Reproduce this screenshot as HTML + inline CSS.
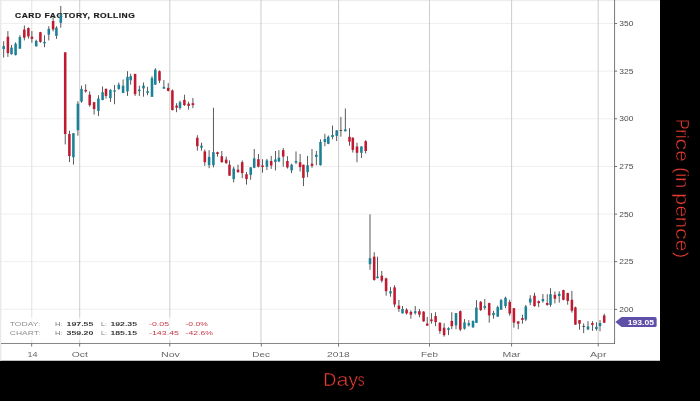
<!DOCTYPE html>
<html lang="en"><head><meta charset="utf-8"><title>CARD FACTORY, ROLLING</title>
<style>html,body{margin:0;padding:0;background:#000;}body{width:700px;height:401px;overflow:hidden;}svg{display:block;}text{font-family:"Liberation Sans",sans-serif;}</style>
</head><body>
<svg width="700" height="401" viewBox="0 0 700 401">
<rect x="0" y="0" width="700" height="401" fill="#000"/>
<rect x="0" y="0" width="660" height="360.75" fill="#fff"/>
<rect x="0" y="0" width="660" height="1.2" fill="#ededed"/>
<rect x="0" y="0" width="1.4" height="360.6" fill="#e9e9e9"/>
<rect x="1" y="22.9" width="613.5" height="1" fill="#efefef"/>
<rect x="1" y="70.6" width="613.5" height="1" fill="#efefef"/>
<rect x="1" y="118.3" width="613.5" height="1" fill="#efefef"/>
<rect x="1" y="165.9" width="613.5" height="1" fill="#efefef"/>
<rect x="1" y="213.6" width="613.5" height="1" fill="#efefef"/>
<rect x="1" y="261.2" width="613.5" height="1" fill="#efefef"/>
<rect x="1" y="308.8" width="613.5" height="1" fill="#efefef"/>
<rect x="31.2" y="0" width="1.1" height="343.5" fill="#e4e4e4"/>
<rect x="79.20" y="0" width="1" height="343.5" fill="#cdcdcd"/>
<rect x="169.30" y="0" width="1" height="343.5" fill="#cdcdcd"/>
<rect x="260.45" y="0" width="1" height="343.5" fill="#cdcdcd"/>
<rect x="338.10" y="0" width="1" height="343.5" fill="#cdcdcd"/>
<rect x="429.00" y="0" width="1" height="343.5" fill="#cdcdcd"/>
<rect x="511.10" y="0" width="1" height="343.5" fill="#cdcdcd"/>
<rect x="597.70" y="0" width="1" height="343.5" fill="#cdcdcd"/>
<rect x="1" y="343.1" width="614" height="0.9" fill="#7a7a7a"/>
<rect x="614.25" y="0" width="0.8" height="344" fill="#5a5a5a"/>
<rect x="31.25" y="343.5" width="0.9" height="3" fill="#666"/>
<rect x="79.25" y="343.5" width="0.9" height="3" fill="#666"/>
<rect x="169.35" y="343.5" width="0.9" height="3" fill="#666"/>
<rect x="260.85" y="343.5" width="0.9" height="3" fill="#666"/>
<rect x="338.15" y="343.5" width="0.9" height="3" fill="#666"/>
<rect x="429.05" y="343.5" width="0.9" height="3" fill="#666"/>
<rect x="511.15" y="343.5" width="0.9" height="3" fill="#666"/>
<rect x="597.75" y="343.5" width="0.9" height="3" fill="#666"/>
<rect x="614.6" y="23.0" width="2.6" height="0.8" fill="#555"/>
<text x="619.3" y="25.8" font-size="6.7" fill="#4d4d4d" textLength="14.1" lengthAdjust="spacingAndGlyphs">350</text>
<rect x="614.6" y="70.7" width="2.6" height="0.8" fill="#555"/>
<text x="619.3" y="73.5" font-size="6.7" fill="#4d4d4d" textLength="14.1" lengthAdjust="spacingAndGlyphs">325</text>
<rect x="614.6" y="118.4" width="2.6" height="0.8" fill="#555"/>
<text x="619.3" y="121.2" font-size="6.7" fill="#4d4d4d" textLength="14.1" lengthAdjust="spacingAndGlyphs">300</text>
<rect x="614.6" y="166.0" width="2.6" height="0.8" fill="#555"/>
<text x="619.3" y="168.8" font-size="6.7" fill="#4d4d4d" textLength="14.1" lengthAdjust="spacingAndGlyphs">275</text>
<rect x="614.6" y="213.7" width="2.6" height="0.8" fill="#555"/>
<text x="619.3" y="216.5" font-size="6.7" fill="#4d4d4d" textLength="14.1" lengthAdjust="spacingAndGlyphs">250</text>
<rect x="614.6" y="261.3" width="2.6" height="0.8" fill="#555"/>
<text x="619.3" y="264.1" font-size="6.7" fill="#4d4d4d" textLength="14.1" lengthAdjust="spacingAndGlyphs">225</text>
<rect x="614.6" y="308.9" width="2.6" height="0.8" fill="#555"/>
<text x="619.3" y="311.7" font-size="6.7" fill="#4d4d4d" textLength="14.1" lengthAdjust="spacingAndGlyphs">200</text>
<text x="27.4" y="357.3" font-size="8" fill="#666" textLength="10" lengthAdjust="spacingAndGlyphs">14</text>
<text x="71.7" y="357.3" font-size="8" fill="#666" textLength="16.1" lengthAdjust="spacingAndGlyphs">Oct</text>
<text x="161.0" y="357.3" font-size="8" fill="#666" textLength="18.9" lengthAdjust="spacingAndGlyphs">Nov</text>
<text x="252.3" y="357.3" font-size="8" fill="#666" textLength="17.7" lengthAdjust="spacingAndGlyphs">Dec</text>
<text x="327.1" y="357.3" font-size="8" fill="#666" textLength="22.6" lengthAdjust="spacingAndGlyphs">2018</text>
<text x="421.0" y="357.3" font-size="8" fill="#666" textLength="17" lengthAdjust="spacingAndGlyphs">Feb</text>
<text x="502.6" y="357.3" font-size="8" fill="#666" textLength="18" lengthAdjust="spacingAndGlyphs">Mar</text>
<text x="590.0" y="357.3" font-size="8" fill="#666" textLength="16.5" lengthAdjust="spacingAndGlyphs">Apr</text>
<text x="15" y="17.55" font-size="7.4" font-weight="bold" fill="#1c1c1c" stroke="#1c1c1c" stroke-width="0.2" letter-spacing="0.5" textLength="120.4" lengthAdjust="spacingAndGlyphs">CARD FACTORY, ROLLING</text>
<rect x="3.28" y="41.2" width="0.85" height="16.4" fill="#3e3e3e"/>
<rect x="2.43" y="46.1" width="2.55" height="3.0" fill="#1b8196"/>
<rect x="7.48" y="31.1" width="0.85" height="25.8" fill="#3e3e3e"/>
<rect x="6.62" y="36.7" width="2.55" height="16.4" fill="#c01a30"/>
<rect x="11.07" y="44.9" width="0.85" height="9.7" fill="#3e3e3e"/>
<rect x="10.22" y="47.6" width="2.55" height="6.6" fill="#1b8196"/>
<rect x="15.17" y="42.4" width="0.85" height="13.0" fill="#3e3e3e"/>
<rect x="14.32" y="43.7" width="2.55" height="11.4" fill="#1b8196"/>
<rect x="19.47" y="35.2" width="0.85" height="13.5" fill="#3e3e3e"/>
<rect x="18.62" y="37.1" width="2.55" height="11.6" fill="#1b8196"/>
<rect x="23.88" y="25.4" width="0.85" height="15.0" fill="#3e3e3e"/>
<rect x="23.03" y="29.6" width="2.55" height="8.1" fill="#c01a30"/>
<rect x="27.97" y="27.4" width="0.85" height="11.2" fill="#3e3e3e"/>
<rect x="27.12" y="28.1" width="2.55" height="8.3" fill="#c01a30"/>
<rect x="31.47" y="31.1" width="0.85" height="11.6" fill="#3e3e3e"/>
<rect x="30.62" y="36.7" width="2.55" height="2.2" fill="#c01a30"/>
<rect x="35.78" y="39.7" width="0.85" height="6.7" fill="#3e3e3e"/>
<rect x="34.93" y="40.9" width="2.55" height="5.5" fill="#1b8196"/>
<rect x="39.98" y="31.9" width="0.85" height="10.8" fill="#3e3e3e"/>
<rect x="39.12" y="32.2" width="2.55" height="9.7" fill="#c01a30"/>
<rect x="44.08" y="35.2" width="0.85" height="12.0" fill="#3e3e3e"/>
<rect x="43.23" y="41.9" width="2.55" height="1.5" fill="#1b8196"/>
<rect x="48.38" y="26.2" width="0.85" height="14.2" fill="#3e3e3e"/>
<rect x="47.52" y="28.9" width="2.55" height="5.8" fill="#1b8196"/>
<rect x="52.68" y="16.5" width="0.85" height="14.9" fill="#3e3e3e"/>
<rect x="51.83" y="21.0" width="2.55" height="8.5" fill="#c01a30"/>
<rect x="55.98" y="26.2" width="0.85" height="12.7" fill="#3e3e3e"/>
<rect x="55.12" y="27.7" width="2.55" height="8.2" fill="#1b8196"/>
<rect x="60.38" y="6.0" width="0.85" height="21.7" fill="#3e3e3e"/>
<rect x="59.52" y="14.2" width="2.55" height="8.6" fill="#1b8196"/>
<rect x="64.78" y="52.3" width="0.85" height="92.1" fill="#3e3e3e"/>
<rect x="63.93" y="52.3" width="2.55" height="81.7" fill="#c01a30"/>
<rect x="68.98" y="130.7" width="0.85" height="31.4" fill="#3e3e3e"/>
<rect x="68.12" y="134.0" width="2.55" height="22.1" fill="#c01a30"/>
<rect x="72.98" y="133.2" width="0.85" height="31.4" fill="#3e3e3e"/>
<rect x="72.12" y="133.2" width="2.55" height="24.0" fill="#1b8196"/>
<rect x="77.48" y="101.2" width="0.85" height="34.5" fill="#3e3e3e"/>
<rect x="76.62" y="103.7" width="2.55" height="26.5" fill="#1b8196"/>
<rect x="81.08" y="85.7" width="0.85" height="17.0" fill="#3e3e3e"/>
<rect x="80.22" y="88.9" width="2.55" height="12.7" fill="#1b8196"/>
<rect x="85.28" y="84.3" width="0.85" height="8.3" fill="#3e3e3e"/>
<rect x="84.42" y="89.9" width="2.55" height="1.5" fill="#c01a30"/>
<rect x="89.28" y="91.4" width="0.85" height="15.3" fill="#3e3e3e"/>
<rect x="88.42" y="94.7" width="2.55" height="10.5" fill="#c01a30"/>
<rect x="93.67" y="101.9" width="0.85" height="12.7" fill="#3e3e3e"/>
<rect x="92.82" y="102.2" width="2.55" height="6.9" fill="#c01a30"/>
<rect x="97.98" y="95.2" width="0.85" height="20.9" fill="#3e3e3e"/>
<rect x="97.12" y="98.6" width="2.55" height="12.3" fill="#1b8196"/>
<rect x="102.17" y="86.5" width="0.85" height="13.6" fill="#3e3e3e"/>
<rect x="101.32" y="92.2" width="2.55" height="7.9" fill="#1b8196"/>
<rect x="105.58" y="88.4" width="0.85" height="10.2" fill="#3e3e3e"/>
<rect x="104.72" y="88.9" width="2.55" height="7.0" fill="#c01a30"/>
<rect x="109.98" y="89.2" width="0.85" height="12.7" fill="#3e3e3e"/>
<rect x="109.12" y="89.9" width="2.55" height="8.3" fill="#1b8196"/>
<rect x="114.17" y="85.1" width="0.85" height="19.1" fill="#3e3e3e"/>
<rect x="113.32" y="90.4" width="2.55" height="1.3" fill="#1b8196"/>
<rect x="118.38" y="82.5" width="0.85" height="7.4" fill="#3e3e3e"/>
<rect x="117.52" y="84.7" width="2.55" height="4.2" fill="#1b8196"/>
<rect x="122.67" y="79.5" width="0.85" height="13.7" fill="#3e3e3e"/>
<rect x="121.82" y="85.7" width="2.55" height="7.2" fill="#1b8196"/>
<rect x="127.08" y="71.2" width="0.85" height="24.7" fill="#3e3e3e"/>
<rect x="126.22" y="76.9" width="2.55" height="14.5" fill="#1b8196"/>
<rect x="130.27" y="73.8" width="0.85" height="10.9" fill="#3e3e3e"/>
<rect x="129.42" y="76.2" width="2.55" height="4.0" fill="#1b8196"/>
<rect x="134.67" y="73.8" width="0.85" height="22.1" fill="#3e3e3e"/>
<rect x="133.82" y="73.9" width="2.55" height="20.2" fill="#c01a30"/>
<rect x="138.88" y="85.7" width="0.85" height="10.2" fill="#3e3e3e"/>
<rect x="138.03" y="89.6" width="2.55" height="1.5" fill="#1b8196"/>
<rect x="143.07" y="82.5" width="0.85" height="14.2" fill="#3e3e3e"/>
<rect x="142.22" y="85.7" width="2.55" height="2.7" fill="#1b8196"/>
<rect x="147.17" y="86.8" width="0.85" height="8.4" fill="#3e3e3e"/>
<rect x="146.32" y="91.2" width="2.55" height="1.7" fill="#1b8196"/>
<rect x="151.57" y="76.1" width="0.85" height="20.7" fill="#3e3e3e"/>
<rect x="150.72" y="78.1" width="2.55" height="18.7" fill="#1b8196"/>
<rect x="154.88" y="68.2" width="0.85" height="16.7" fill="#3e3e3e"/>
<rect x="154.03" y="69.7" width="2.55" height="14.9" fill="#1b8196"/>
<rect x="159.07" y="70.4" width="0.85" height="12.7" fill="#3e3e3e"/>
<rect x="158.22" y="71.2" width="2.55" height="9.5" fill="#c01a30"/>
<rect x="163.47" y="80.1" width="0.85" height="8.6" fill="#3e3e3e"/>
<rect x="162.62" y="86.9" width="2.55" height="1.8" fill="#1b8196"/>
<rect x="167.77" y="83.1" width="0.85" height="8.3" fill="#3e3e3e"/>
<rect x="166.92" y="87.9" width="2.55" height="3.0" fill="#c01a30"/>
<rect x="171.97" y="89.4" width="0.85" height="21.0" fill="#3e3e3e"/>
<rect x="171.12" y="90.5" width="2.55" height="19.6" fill="#c01a30"/>
<rect x="176.17" y="103.2" width="0.85" height="9.0" fill="#3e3e3e"/>
<rect x="175.32" y="105.6" width="2.55" height="2.1" fill="#c01a30"/>
<rect x="179.57" y="100.7" width="0.85" height="8.9" fill="#3e3e3e"/>
<rect x="178.72" y="102.2" width="2.55" height="5.9" fill="#1b8196"/>
<rect x="183.97" y="94.7" width="0.85" height="11.2" fill="#3e3e3e"/>
<rect x="183.12" y="99.9" width="2.55" height="5.2" fill="#c01a30"/>
<rect x="188.17" y="101.7" width="0.85" height="7.9" fill="#3e3e3e"/>
<rect x="187.32" y="103.7" width="2.55" height="2.2" fill="#c01a30"/>
<rect x="192.47" y="98.0" width="0.85" height="10.1" fill="#3e3e3e"/>
<rect x="191.62" y="103.2" width="2.55" height="1.9" fill="#c01a30"/>
<rect x="196.88" y="135.2" width="0.85" height="15.5" fill="#3e3e3e"/>
<rect x="196.03" y="137.8" width="2.55" height="8.4" fill="#c01a30"/>
<rect x="201.07" y="142.7" width="0.85" height="8.0" fill="#3e3e3e"/>
<rect x="200.22" y="145.7" width="2.55" height="2.0" fill="#1b8196"/>
<rect x="204.38" y="149.5" width="0.85" height="16.4" fill="#3e3e3e"/>
<rect x="203.53" y="151.4" width="2.55" height="10.8" fill="#c01a30"/>
<rect x="208.67" y="150.2" width="0.85" height="18.0" fill="#3e3e3e"/>
<rect x="207.82" y="156.9" width="2.55" height="8.3" fill="#1b8196"/>
<rect x="212.97" y="107.7" width="0.85" height="59.7" fill="#3e3e3e"/>
<rect x="212.12" y="152.2" width="2.55" height="13.0" fill="#1b8196"/>
<rect x="217.07" y="151.7" width="0.85" height="4.9" fill="#3e3e3e"/>
<rect x="216.22" y="152.2" width="2.55" height="1.8" fill="#c01a30"/>
<rect x="221.38" y="151.0" width="0.85" height="11.6" fill="#3e3e3e"/>
<rect x="220.53" y="156.2" width="2.55" height="6.0" fill="#c01a30"/>
<rect x="225.77" y="156.6" width="0.85" height="7.1" fill="#3e3e3e"/>
<rect x="224.92" y="159.6" width="2.55" height="3.6" fill="#c01a30"/>
<rect x="229.07" y="160.4" width="0.85" height="15.3" fill="#3e3e3e"/>
<rect x="228.22" y="164.7" width="2.55" height="11.0" fill="#c01a30"/>
<rect x="233.27" y="166.7" width="0.85" height="15.7" fill="#3e3e3e"/>
<rect x="232.42" y="168.6" width="2.55" height="10.5" fill="#1b8196"/>
<rect x="237.57" y="164.7" width="0.85" height="8.0" fill="#3e3e3e"/>
<rect x="236.72" y="169.7" width="2.55" height="2.5" fill="#c01a30"/>
<rect x="241.77" y="160.4" width="0.85" height="17.8" fill="#3e3e3e"/>
<rect x="240.92" y="162.2" width="2.55" height="10.9" fill="#c01a30"/>
<rect x="246.07" y="171.9" width="0.85" height="12.7" fill="#3e3e3e"/>
<rect x="245.22" y="174.2" width="2.55" height="4.9" fill="#c01a30"/>
<rect x="250.27" y="167.1" width="0.85" height="12.6" fill="#3e3e3e"/>
<rect x="249.42" y="167.4" width="2.55" height="7.5" fill="#1b8196"/>
<rect x="253.77" y="149.0" width="0.85" height="19.2" fill="#3e3e3e"/>
<rect x="252.92" y="158.4" width="2.55" height="9.3" fill="#1b8196"/>
<rect x="257.97" y="154.0" width="0.85" height="13.4" fill="#3e3e3e"/>
<rect x="257.12" y="159.2" width="2.55" height="7.5" fill="#c01a30"/>
<rect x="262.07" y="159.2" width="0.85" height="13.5" fill="#3e3e3e"/>
<rect x="261.23" y="165.5" width="2.55" height="1.5" fill="#c01a30"/>
<rect x="266.47" y="158.9" width="0.85" height="11.2" fill="#3e3e3e"/>
<rect x="265.62" y="160.4" width="2.55" height="6.3" fill="#1b8196"/>
<rect x="270.77" y="155.9" width="0.85" height="13.0" fill="#3e3e3e"/>
<rect x="269.93" y="161.0" width="2.55" height="4.5" fill="#c01a30"/>
<rect x="274.97" y="151.0" width="0.85" height="19.4" fill="#3e3e3e"/>
<rect x="274.12" y="159.5" width="2.55" height="2.4" fill="#1b8196"/>
<rect x="278.47" y="150.2" width="0.85" height="12.0" fill="#3e3e3e"/>
<rect x="277.62" y="157.7" width="2.55" height="3.7" fill="#1b8196"/>
<rect x="282.77" y="148.0" width="0.85" height="18.7" fill="#3e3e3e"/>
<rect x="281.93" y="150.2" width="2.55" height="6.4" fill="#c01a30"/>
<rect x="286.97" y="156.2" width="0.85" height="12.4" fill="#3e3e3e"/>
<rect x="286.12" y="161.0" width="2.55" height="6.4" fill="#c01a30"/>
<rect x="291.18" y="163.7" width="0.85" height="9.4" fill="#3e3e3e"/>
<rect x="290.33" y="164.7" width="2.55" height="5.7" fill="#1b8196"/>
<rect x="295.57" y="151.4" width="0.85" height="12.7" fill="#3e3e3e"/>
<rect x="294.73" y="161.0" width="2.55" height="1.6" fill="#1b8196"/>
<rect x="299.68" y="154.0" width="0.85" height="17.6" fill="#3e3e3e"/>
<rect x="298.83" y="162.2" width="2.55" height="4.9" fill="#c01a30"/>
<rect x="302.97" y="164.7" width="0.85" height="21.4" fill="#3e3e3e"/>
<rect x="302.12" y="164.7" width="2.55" height="13.2" fill="#c01a30"/>
<rect x="307.18" y="155.9" width="0.85" height="21.3" fill="#3e3e3e"/>
<rect x="306.33" y="165.2" width="2.55" height="7.0" fill="#1b8196"/>
<rect x="311.57" y="149.0" width="0.85" height="18.7" fill="#3e3e3e"/>
<rect x="310.73" y="163.7" width="2.55" height="2.2" fill="#c01a30"/>
<rect x="315.88" y="151.0" width="0.85" height="14.2" fill="#3e3e3e"/>
<rect x="315.03" y="154.7" width="2.55" height="2.2" fill="#1b8196"/>
<rect x="320.07" y="139.3" width="0.85" height="26.2" fill="#3e3e3e"/>
<rect x="319.23" y="142.0" width="2.55" height="23.2" fill="#1b8196"/>
<rect x="324.47" y="133.8" width="0.85" height="12.4" fill="#3e3e3e"/>
<rect x="323.62" y="139.0" width="2.55" height="3.0" fill="#1b8196"/>
<rect x="327.88" y="135.5" width="0.85" height="8.7" fill="#3e3e3e"/>
<rect x="327.03" y="136.8" width="2.55" height="7.0" fill="#1b8196"/>
<rect x="332.07" y="125.5" width="0.85" height="13.8" fill="#3e3e3e"/>
<rect x="331.23" y="135.0" width="2.55" height="2.0" fill="#1b8196"/>
<rect x="336.27" y="130.0" width="0.85" height="11.1" fill="#3e3e3e"/>
<rect x="335.43" y="130.5" width="2.55" height="5.4" fill="#1b8196"/>
<rect x="340.47" y="116.9" width="0.85" height="19.8" fill="#3e3e3e"/>
<rect x="339.62" y="130.0" width="2.55" height="0.8" fill="#333"/>
<rect x="344.88" y="108.5" width="0.85" height="23.0" fill="#3e3e3e"/>
<rect x="344.03" y="129.4" width="2.55" height="1.8" fill="#1b8196"/>
<rect x="349.07" y="128.2" width="0.85" height="17.5" fill="#3e3e3e"/>
<rect x="348.23" y="136.8" width="2.55" height="4.9" fill="#c01a30"/>
<rect x="352.38" y="137.2" width="0.85" height="15.3" fill="#3e3e3e"/>
<rect x="351.53" y="137.8" width="2.55" height="12.1" fill="#c01a30"/>
<rect x="356.57" y="142.7" width="0.85" height="19.5" fill="#3e3e3e"/>
<rect x="355.73" y="146.5" width="2.55" height="6.3" fill="#c01a30"/>
<rect x="360.97" y="146.2" width="0.85" height="11.8" fill="#3e3e3e"/>
<rect x="360.12" y="146.5" width="2.55" height="6.3" fill="#1b8196"/>
<rect x="365.27" y="140.2" width="0.85" height="13.3" fill="#3e3e3e"/>
<rect x="364.43" y="141.2" width="2.55" height="9.8" fill="#c01a30"/>
<rect x="369.57" y="214.3" width="0.85" height="55.5" fill="#3e3e3e"/>
<rect x="368.73" y="258.2" width="2.55" height="6.0" fill="#1b8196"/>
<rect x="373.77" y="252.2" width="0.85" height="28.5" fill="#3e3e3e"/>
<rect x="372.93" y="256.7" width="2.55" height="23.2" fill="#c01a30"/>
<rect x="377.07" y="256.7" width="0.85" height="21.7" fill="#3e3e3e"/>
<rect x="376.23" y="276.6" width="2.55" height="1.5" fill="#1b8196"/>
<rect x="381.38" y="271.0" width="0.85" height="11.6" fill="#3e3e3e"/>
<rect x="380.53" y="275.7" width="2.55" height="5.0" fill="#c01a30"/>
<rect x="385.68" y="277.7" width="0.85" height="18.0" fill="#3e3e3e"/>
<rect x="384.83" y="278.4" width="2.55" height="12.8" fill="#c01a30"/>
<rect x="390.07" y="287.1" width="0.85" height="9.6" fill="#3e3e3e"/>
<rect x="389.23" y="291.2" width="2.55" height="2.2" fill="#1b8196"/>
<rect x="394.18" y="285.2" width="0.85" height="22.0" fill="#3e3e3e"/>
<rect x="393.33" y="287.4" width="2.55" height="17.1" fill="#c01a30"/>
<rect x="398.47" y="300.0" width="0.85" height="11.9" fill="#3e3e3e"/>
<rect x="397.62" y="305.6" width="2.55" height="3.4" fill="#c01a30"/>
<rect x="402.07" y="306.0" width="0.85" height="7.4" fill="#3e3e3e"/>
<rect x="401.23" y="309.0" width="2.55" height="4.4" fill="#1b8196"/>
<rect x="406.18" y="308.2" width="0.85" height="6.4" fill="#3e3e3e"/>
<rect x="405.33" y="309.7" width="2.55" height="3.7" fill="#c01a30"/>
<rect x="410.47" y="310.4" width="0.85" height="8.3" fill="#3e3e3e"/>
<rect x="409.62" y="311.9" width="2.55" height="2.7" fill="#c01a30"/>
<rect x="414.77" y="306.0" width="0.85" height="8.6" fill="#3e3e3e"/>
<rect x="413.93" y="311.2" width="2.55" height="1.9" fill="#1b8196"/>
<rect x="418.97" y="309.0" width="0.85" height="8.2" fill="#3e3e3e"/>
<rect x="418.12" y="311.2" width="2.55" height="3.4" fill="#c01a30"/>
<rect x="423.18" y="311.2" width="0.85" height="10.5" fill="#3e3e3e"/>
<rect x="422.33" y="311.6" width="2.55" height="9.8" fill="#c01a30"/>
<rect x="426.77" y="316.9" width="0.85" height="8.8" fill="#3e3e3e"/>
<rect x="425.93" y="323.6" width="2.55" height="2.1" fill="#c01a30"/>
<rect x="430.97" y="313.1" width="0.85" height="10.5" fill="#3e3e3e"/>
<rect x="430.12" y="319.4" width="2.55" height="1.8" fill="#c01a30"/>
<rect x="435.18" y="312.2" width="0.85" height="14.0" fill="#3e3e3e"/>
<rect x="434.33" y="316.1" width="2.55" height="6.0" fill="#c01a30"/>
<rect x="439.47" y="322.4" width="0.85" height="11.3" fill="#3e3e3e"/>
<rect x="438.62" y="322.7" width="2.55" height="8.3" fill="#c01a30"/>
<rect x="443.68" y="323.2" width="0.85" height="13.4" fill="#3e3e3e"/>
<rect x="442.83" y="327.7" width="2.55" height="7.4" fill="#c01a30"/>
<rect x="448.07" y="327.2" width="0.85" height="7.9" fill="#3e3e3e"/>
<rect x="447.23" y="328.1" width="2.55" height="1.8" fill="#1b8196"/>
<rect x="451.38" y="312.2" width="0.85" height="17.0" fill="#3e3e3e"/>
<rect x="450.53" y="320.9" width="2.55" height="5.3" fill="#c01a30"/>
<rect x="455.57" y="313.1" width="0.85" height="16.1" fill="#3e3e3e"/>
<rect x="454.73" y="313.1" width="2.55" height="12.3" fill="#1b8196"/>
<rect x="459.88" y="310.4" width="0.85" height="20.7" fill="#3e3e3e"/>
<rect x="459.03" y="311.2" width="2.55" height="18.4" fill="#c01a30"/>
<rect x="464.07" y="319.1" width="0.85" height="10.5" fill="#3e3e3e"/>
<rect x="463.23" y="322.4" width="2.55" height="6.3" fill="#1b8196"/>
<rect x="468.38" y="320.2" width="0.85" height="6.4" fill="#3e3e3e"/>
<rect x="467.53" y="323.2" width="2.55" height="2.2" fill="#1b8196"/>
<rect x="472.57" y="320.6" width="0.85" height="7.1" fill="#3e3e3e"/>
<rect x="471.73" y="320.9" width="2.55" height="6.5" fill="#1b8196"/>
<rect x="475.97" y="300.1" width="0.85" height="22.9" fill="#3e3e3e"/>
<rect x="475.12" y="307.6" width="2.55" height="15.3" fill="#1b8196"/>
<rect x="480.27" y="300.9" width="0.85" height="10.1" fill="#3e3e3e"/>
<rect x="479.43" y="301.9" width="2.55" height="8.1" fill="#c01a30"/>
<rect x="484.38" y="299.0" width="0.85" height="10.7" fill="#3e3e3e"/>
<rect x="483.53" y="306.0" width="2.55" height="1.9" fill="#1b8196"/>
<rect x="488.77" y="302.7" width="0.85" height="19.9" fill="#3e3e3e"/>
<rect x="487.93" y="303.1" width="2.55" height="12.3" fill="#c01a30"/>
<rect x="493.07" y="310.9" width="0.85" height="7.8" fill="#3e3e3e"/>
<rect x="492.23" y="312.9" width="2.55" height="2.2" fill="#1b8196"/>
<rect x="497.27" y="305.7" width="0.85" height="11.2" fill="#3e3e3e"/>
<rect x="496.43" y="307.2" width="2.55" height="9.4" fill="#1b8196"/>
<rect x="500.68" y="299.0" width="0.85" height="10.7" fill="#3e3e3e"/>
<rect x="499.83" y="300.1" width="2.55" height="9.6" fill="#1b8196"/>
<rect x="505.07" y="296.7" width="0.85" height="11.5" fill="#3e3e3e"/>
<rect x="504.23" y="297.8" width="2.55" height="8.3" fill="#1b8196"/>
<rect x="509.27" y="299.7" width="0.85" height="16.0" fill="#3e3e3e"/>
<rect x="508.43" y="301.9" width="2.55" height="11.7" fill="#c01a30"/>
<rect x="513.48" y="307.9" width="0.85" height="19.8" fill="#3e3e3e"/>
<rect x="512.62" y="308.2" width="2.55" height="14.4" fill="#c01a30"/>
<rect x="517.78" y="321.1" width="0.85" height="8.1" fill="#3e3e3e"/>
<rect x="516.93" y="321.4" width="2.55" height="2.3" fill="#c01a30"/>
<rect x="521.98" y="314.7" width="0.85" height="9.0" fill="#3e3e3e"/>
<rect x="521.12" y="318.1" width="2.55" height="1.8" fill="#c01a30"/>
<rect x="525.38" y="304.9" width="0.85" height="16.2" fill="#3e3e3e"/>
<rect x="524.52" y="306.4" width="2.55" height="13.2" fill="#1b8196"/>
<rect x="529.78" y="295.2" width="0.85" height="10.0" fill="#3e3e3e"/>
<rect x="528.93" y="298.5" width="2.55" height="3.9" fill="#1b8196"/>
<rect x="534.08" y="292.7" width="0.85" height="14.0" fill="#3e3e3e"/>
<rect x="533.23" y="295.7" width="2.55" height="10.4" fill="#c01a30"/>
<rect x="538.28" y="300.4" width="0.85" height="6.8" fill="#3e3e3e"/>
<rect x="537.43" y="301.2" width="2.55" height="1.9" fill="#c01a30"/>
<rect x="542.48" y="294.0" width="0.85" height="8.7" fill="#3e3e3e"/>
<rect x="541.62" y="299.0" width="2.55" height="2.2" fill="#1b8196"/>
<rect x="546.78" y="294.2" width="0.85" height="11.5" fill="#3e3e3e"/>
<rect x="545.93" y="303.0" width="2.55" height="1.9" fill="#c01a30"/>
<rect x="550.08" y="288.2" width="0.85" height="18.5" fill="#3e3e3e"/>
<rect x="549.23" y="294.2" width="2.55" height="10.7" fill="#1b8196"/>
<rect x="554.48" y="291.5" width="0.85" height="11.9" fill="#3e3e3e"/>
<rect x="553.62" y="294.8" width="2.55" height="3.9" fill="#c01a30"/>
<rect x="558.78" y="291.2" width="0.85" height="11.5" fill="#3e3e3e"/>
<rect x="557.93" y="293.7" width="2.55" height="2.3" fill="#1b8196"/>
<rect x="562.98" y="289.7" width="0.85" height="10.7" fill="#3e3e3e"/>
<rect x="562.12" y="290.1" width="2.55" height="9.7" fill="#c01a30"/>
<rect x="567.28" y="292.7" width="0.85" height="12.0" fill="#3e3e3e"/>
<rect x="566.43" y="293.1" width="2.55" height="7.8" fill="#c01a30"/>
<rect x="571.48" y="290.8" width="0.85" height="21.8" fill="#3e3e3e"/>
<rect x="570.62" y="299.8" width="2.55" height="10.9" fill="#c01a30"/>
<rect x="574.98" y="306.6" width="0.85" height="18.3" fill="#3e3e3e"/>
<rect x="574.12" y="307.4" width="2.55" height="17.2" fill="#c01a30"/>
<rect x="579.08" y="320.1" width="0.85" height="9.6" fill="#3e3e3e"/>
<rect x="578.23" y="320.1" width="2.55" height="3.6" fill="#c01a30"/>
<rect x="583.28" y="323.4" width="0.85" height="9.7" fill="#3e3e3e"/>
<rect x="582.43" y="326.1" width="2.55" height="0.8" fill="#333"/>
<rect x="587.58" y="321.2" width="0.85" height="8.9" fill="#3e3e3e"/>
<rect x="586.73" y="326.4" width="2.55" height="3.0" fill="#1b8196"/>
<rect x="591.98" y="321.2" width="0.85" height="9.7" fill="#3e3e3e"/>
<rect x="591.12" y="323.1" width="2.55" height="1.8" fill="#c01a30"/>
<rect x="595.98" y="322.2" width="0.85" height="8.4" fill="#3e3e3e"/>
<rect x="595.12" y="326.9" width="2.55" height="2.2" fill="#1b8196"/>
<rect x="599.58" y="320.1" width="0.85" height="11.2" fill="#3e3e3e"/>
<rect x="598.73" y="323.0" width="2.55" height="3.1" fill="#1b8196"/>
<rect x="603.78" y="313.7" width="0.85" height="9.4" fill="#3e3e3e"/>
<rect x="602.93" y="315.5" width="2.55" height="7.2" fill="#c01a30"/>
<rect x="1.4" y="317.5" width="216" height="22.5" fill="#fff" fill-opacity="0.72"/>
<text x="9.8" y="326.1" font-size="6" fill="#8e8e8e" textLength="30.5" lengthAdjust="spacingAndGlyphs">TODAY:</text>
<text x="54.9" y="326.1" font-size="6" fill="#7c7c7c" textLength="7.7" lengthAdjust="spacingAndGlyphs">H:</text>
<text x="66.5" y="326.1" font-size="6" font-weight="bold" fill="#383838" textLength="26.9" lengthAdjust="spacingAndGlyphs">197.55</text>
<text x="101" y="326.1" font-size="6" fill="#7c7c7c" textLength="6" lengthAdjust="spacingAndGlyphs">L:</text>
<text x="110.4" y="326.1" font-size="6" font-weight="bold" fill="#383838" textLength="26.6" lengthAdjust="spacingAndGlyphs">192.35</text>
<text x="149" y="326.1" font-size="6" fill="#c63a48" textLength="20.1" lengthAdjust="spacingAndGlyphs">-0.05</text>
<text x="185.5" y="326.1" font-size="6" fill="#c63a48" textLength="22.3" lengthAdjust="spacingAndGlyphs">-0.0%</text>
<text x="9.8" y="335.1" font-size="6" fill="#8e8e8e" textLength="30.5" lengthAdjust="spacingAndGlyphs">CHART:</text>
<text x="54.9" y="335.1" font-size="6" fill="#7c7c7c" textLength="7.7" lengthAdjust="spacingAndGlyphs">H:</text>
<text x="66.5" y="335.1" font-size="6" font-weight="bold" fill="#383838" textLength="26.9" lengthAdjust="spacingAndGlyphs">359.20</text>
<text x="101" y="335.1" font-size="6" fill="#7c7c7c" textLength="6" lengthAdjust="spacingAndGlyphs">L:</text>
<text x="110.4" y="335.1" font-size="6" font-weight="bold" fill="#383838" textLength="26.6" lengthAdjust="spacingAndGlyphs">185.15</text>
<text x="149" y="335.1" font-size="6" fill="#c63a48" textLength="30" lengthAdjust="spacingAndGlyphs">-143.45</text>
<text x="185.5" y="335.1" font-size="6" fill="#c63a48" textLength="27.4" lengthAdjust="spacingAndGlyphs">-42.6%</text>
<path d="M615.4 322.1 L621.6 317.1 L655.0 317.1 Q656.6 317.1 656.6 318.7 L656.6 325.5 Q656.6 327.1 655.0 327.1 L621.6 327.1 Z" fill="#5f4fa8"/>
<text x="627.7" y="325.2" font-size="6.4" font-weight="bold" fill="#fff" textLength="26.4" lengthAdjust="spacingAndGlyphs">193.05</text>
<text transform="translate(323.3,385.7)" y="0" font-size="18.6" fill="#e53d32" stroke="#000" stroke-width="0.45"><tspan x="0.00" textLength="13.09" lengthAdjust="spacingAndGlyphs">D</tspan><tspan x="13.09" textLength="12.02" lengthAdjust="spacingAndGlyphs">a</tspan><tspan x="25.12" textLength="9.43" lengthAdjust="spacingAndGlyphs">y</tspan><tspan x="34.55" textLength="6.83" lengthAdjust="spacingAndGlyphs">s</tspan></text>
<text transform="translate(675.8,118.9) rotate(90)" y="0" font-size="18.8" fill="#e53d32" stroke="#000" stroke-width="0.45"><tspan x="0.00" textLength="10.66" lengthAdjust="spacingAndGlyphs">P</tspan><tspan x="10.66" textLength="5.42" lengthAdjust="spacingAndGlyphs">r</tspan><tspan x="16.07" textLength="3.60" lengthAdjust="spacingAndGlyphs">i</tspan><tspan x="19.67" textLength="11.65" lengthAdjust="spacingAndGlyphs">c</tspan><tspan x="31.32" textLength="11.70" lengthAdjust="spacingAndGlyphs">e</tspan><tspan x="43.02"> </tspan><tspan x="48.01" textLength="6.64" lengthAdjust="spacingAndGlyphs">(</tspan><tspan x="54.65" textLength="3.60" lengthAdjust="spacingAndGlyphs">i</tspan><tspan x="58.25" textLength="10.98" lengthAdjust="spacingAndGlyphs">n</tspan><tspan x="69.23"> </tspan><tspan x="74.21" textLength="12.28" lengthAdjust="spacingAndGlyphs">p</tspan><tspan x="86.49" textLength="11.70" lengthAdjust="spacingAndGlyphs">e</tspan><tspan x="98.19" textLength="10.98" lengthAdjust="spacingAndGlyphs">n</tspan><tspan x="109.17" textLength="11.65" lengthAdjust="spacingAndGlyphs">c</tspan><tspan x="120.82" textLength="11.70" lengthAdjust="spacingAndGlyphs">e</tspan><tspan x="132.52" textLength="6.64" lengthAdjust="spacingAndGlyphs">)</tspan></text>
</svg>
</body></html>
